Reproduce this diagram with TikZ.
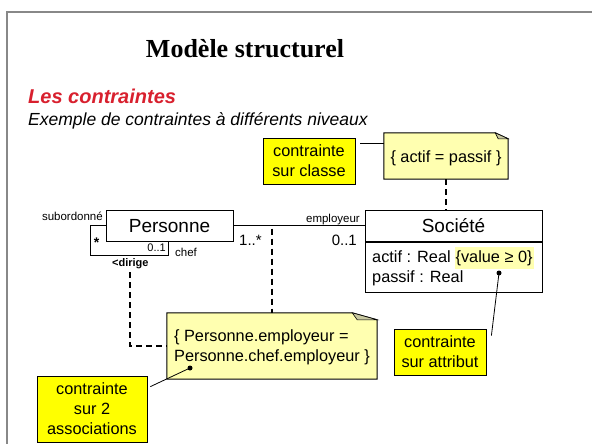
\documentclass[tikz,border=0pt]{standalone}
\usepackage{fontspec}
\setmainfont{Liberation Sans}
\newfontfamily\titlefont{Liberation Serif}
\usetikzlibrary{backgrounds}
\definecolor{redc}{HTML}{D8202E}
\definecolor{notec}{HTML}{FFFFB0}
\definecolor{foldc}{HTML}{C8C8A0}
\definecolor{yelc}{HTML}{FFFF00}
\definecolor{framec}{HTML}{888888}
\newcommand\fsz[2]{\fontsize{#1}{#2}\selectfont}
\begin{document}
\begin{tikzpicture}[x=1pt,y=-1pt,
  classbox/.style={draw, line width=1pt, inner sep=0pt, text height=13.6pt, text depth=0pt, font=\fsz{19}{23}},
  yellowbox/.style={draw, fill=yelc, line width=0.8pt, align=center, inner sep=0pt, font=\fsz{16.3}{20}},
  notetxt/.style={align=left, inner sep=0pt, font=\fsz{16.3}{20}},
  noteshape/.style={inner sep=0pt},
  notebody/.style={draw, fill=notec, line width=1pt},
  foldst/.style={draw, fill=foldc, line width=0.6pt},
  attr/.style={inner sep=0pt, font=\fsz{16.3}{20}},
  small/.style={inner sep=0pt, font=\fsz{11.5}{13}},
  mult/.style={inner sep=0pt, font=\fsz{15}{17}},
  dashline/.style={line width=1.6pt, dash pattern=on 6pt off 4pt},
  conn/.style={line width=0.8pt},
  dotn/.style={circle, fill, inner sep=0pt, minimum size=5pt}]
\useasboundingbox (0,0) rectangle (592,444);
\draw[framec, line width=1.5pt] (7,444) -- (7,12) -- (592,12);

% titles
\node[anchor=base, inner sep=0pt, font=\titlefont\bfseries\fsz{26}{30}] (title) at (245,58) {Modèle structurel};
\node[anchor=base west, inner sep=0pt, text=redc, font=\bfseries\itshape\fsz{20}{24}] (sub) at (28,103) {Les contraintes};
\node[anchor=base west, inner sep=0pt, font=\itshape\fsz{17.5}{21}] (ex) at (28,125) {Exemple de contraintes à différents niveaux};

% classes
\node[classbox, minimum width=127pt, minimum height=31pt] (pers) at (169.5,225.5) {Personne};
\node[classbox, minimum width=177pt, minimum height=31pt] (soch) at (453.5,225.5) {Société};
\node[draw, line width=1pt, minimum width=177pt, minimum height=50pt, inner sep=0pt, anchor=north] (socb) at (soch.south) {};
\node[attr, anchor=base west] (a1) at (372,262) {actif : Real};
\node[attr, anchor=base west, fill=notec, inner xsep=1pt, inner ysep=3pt, text height=12pt, text depth=4pt] (a1v) at ([xshift=3.5pt]a1.base east) {\{value ≥ 0\}};
\node[attr, anchor=base west] (a2) at (372,282) {passif : Real};

% associations
\draw[conn] (pers.east) -- (soch.west);
\path (pers.south west) ++(63,0) coordinate (chefend);
\draw[conn] (pers.west) -- ++(-15,0) |- ([yshift=-14pt]chefend) -- (chefend);

% association labels
\node[small, anchor=base east] (lsub) at (103,220) {subordonné};
\node[inner sep=0pt, anchor=base, font=\bfseries\fsz{14}{16}] (lstar) at (96.5,247) {*};
\node[small, anchor=base east, font=\fsz{11}{13}] (l01a) at (166,251) {0..1};
\node[small, anchor=base west] (lchef) at (175,256) {chef};
\node[small, anchor=base west, font=\bfseries\fsz{11}{13}] (ldir) at (112,266) {<dirige};
\node[mult, anchor=base west] (l1n) at (239,245) {1..*};
\node[small, anchor=base east] (lemp) at (360,222) {employeur};
\node[mult, anchor=base east] (l01b) at (357,245) {0..1};

% notes
\node[noteshape, minimum width=124pt, minimum height=46pt] (n1s) at (446,156) {};
\node[notetxt] (n1) at (446,158) {\{ actif = passif \}};
\node[noteshape, minimum width=210pt, minimum height=66pt] (n2s) at (272,346) {};
\node[notetxt] (n2) at (272,347) {\{ Personne.employeur =\\Personne.chef.employeur \}};
\begin{scope}[on background layer]
  \draw[notebody] (n1s.north west) -- ([xshift=-13pt]n1s.north east) -- ([yshift=-6pt]n1s.north east) -- (n1s.south east) -- (n1s.south west) -- cycle;
  \draw[foldst] ([xshift=-13pt]n1s.north east) -- ([xshift=-10pt,yshift=-6pt]n1s.north east) -- ([yshift=-6pt]n1s.north east) -- cycle;
  \draw[notebody] (n2s.north west) -- ([xshift=-25pt]n2s.north east) -- ([yshift=-7pt]n2s.north east) -- (n2s.south east) -- (n2s.south west) -- cycle;
  \draw[foldst] ([xshift=-25pt]n2s.north east) -- ([xshift=-20pt,yshift=-7pt]n2s.north east) -- ([yshift=-7pt]n2s.north east) -- cycle;
\end{scope}

% yellow callouts
\node[yellowbox, minimum width=92pt, minimum height=46pt] (cls) at (309,161) {contrainte\\sur classe};
\node[yellowbox, minimum width=92pt, minimum height=46pt] (att) at (440,352) {contrainte\\sur attribut};
\node[yellowbox, minimum width=110pt, minimum height=66pt] (asc) at (92,409) {contrainte\\sur 2\\associations};

% callout connectors
\draw[conn] ([xshift=5pt,yshift=-6pt]cls.north east) coordinate (c1) -- (c1 -| n1s.west);
\node[dotn] (d1) at (499,273) {};
\draw[conn] (d1.center) -- ([xshift=5pt,yshift=-7pt]att.north east);
\node[dotn] (d2) at (190,368) {};
\draw[conn] (d2.center) -- ([xshift=3pt,yshift=-11pt]asc.north east);

% dashed constraint links
\draw[dashline] (n1s.south) -- (n1s.south |- soch.north);
\coordinate (am) at (272,225.5);
\draw[dashline] ([yshift=-3pt]am) -- (am |- n2s.north);
\coordinate (dg) at (130,272);
\draw[dashline] (dg) |- (n2s.west);
\end{tikzpicture}
\end{document}
